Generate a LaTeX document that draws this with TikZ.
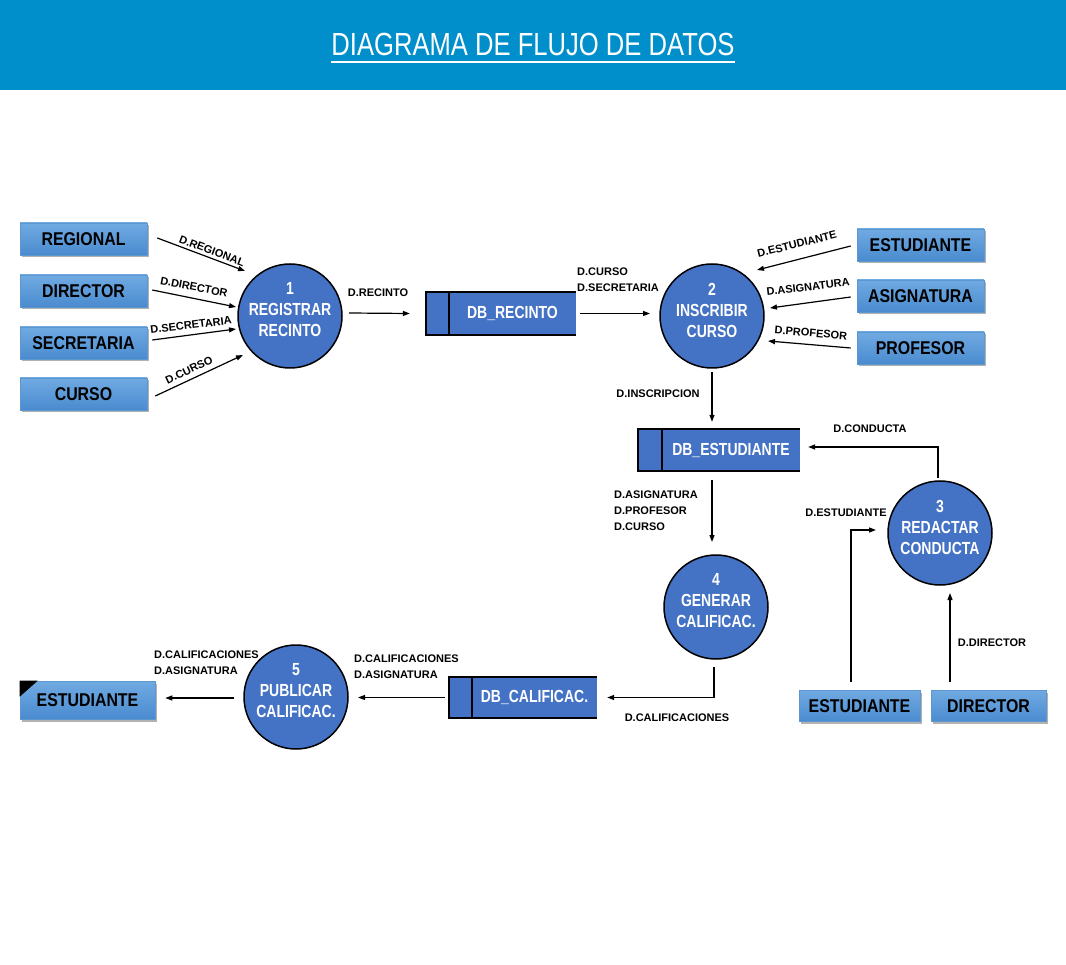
\documentclass[tikz,border=0pt]{standalone}
\usepackage{fontspec}
\setmainfont{Liberation Sans}
\newfontfamily\narrowfont[FakeStretch=0.8]{Liberation Sans}
\newfontfamily\entfont[FakeStretch=0.86]{Liberation Sans}
\usetikzlibrary{arrows.meta,shadows,calc}
\definecolor{headerBlue}{HTML}{008FCB}
\definecolor{procBlue}{HTML}{4472C4}
\definecolor{entTop}{HTML}{70AAE2}
\definecolor{entBot}{HTML}{4A8BCF}
\definecolor{entEdge}{HTML}{5E97D0}
\tikzset{
  ent/.style={rectangle, top color=entTop, bottom color=entBot, draw=entEdge, line width=0.6pt,
    minimum width=127pt, minimum height=32pt, inner sep=0pt,
    font=\fontsize{18.5}{21}\selectfont\entfont\bfseries, text=black,
    drop shadow={shadow xshift=2pt, shadow yshift=-2.5pt, fill=black, opacity=0.3}},
  proc/.style={circle, fill=procBlue, draw=black, line width=1.5pt, minimum size=104pt, inner sep=0pt},
  proctext/.style={align=center, text=white, font=\fontsize{17.5}{21}\selectfont\narrowfont\bfseries, inner sep=0pt},
  store/.style={rectangle, fill=procBlue, inner sep=0pt, text=white, font=\fontsize{17.5}{20}\selectfont\narrowfont\bfseries},
  storeline/.style={draw=black, line width=1.5pt},
  flow/.style={draw=black, line width=1.2pt, -{Triangle[length=7pt,width=5pt]}},
  lbl/.style={font=\fontsize{11}{16}\selectfont\bfseries, text=black, inner sep=0pt, align=left},
}
\begin{document}
\begin{tikzpicture}[x=1pt,y=-1pt]
\useasboundingbox (0,0) rectangle (1066,965);
\fill[white] (0,0) rectangle (1066,965);
\fill[headerBlue] (0,0) rectangle (1066,90);
\node[text=white, inner sep=0pt, font=\fontsize{32}{36}\selectfont\narrowfont] (title) at (533,44) {DIAGRAMA DE FLUJO DE DATOS};
\draw[white, line width=2pt] ($(title.south west)+(0,6)$) -- ($(title.south east)+(0,6)$);

% external entities
\node[ent] (reg) at (83.5,239) {REGIONAL};
\node[ent] (dir) at (83.5,291) {DIRECTOR};
\node[ent] (sec) at (83.5,343) {SECRETARIA};
\node[ent] (cur) at (83.5,394) {CURSO};
\node[ent] (est) at (920.5,245) {ESTUDIANTE};
\node[ent] (asig) at (920.5,296) {ASIGNATURA};
\node[ent] (prof) at (920.5,348) {PROFESOR};
\node[ent, minimum width=121pt, minimum height=31pt] (est2) at (859.5,706) {ESTUDIANTE};
\node[ent, minimum width=115pt, minimum height=31pt] (dir2) at (988.5,706) {DIRECTOR};
\node[ent, minimum width=135pt, minimum height=38pt] (estL) at (87.5,700) {ESTUDIANTE};
\fill[black] (estL.north west) -- ++(18,0) -- ++(-18,16) -- cycle;

% processes
\node[proc] (p1) at (290,316) {};
\node[proc] (p2) at (712,316) {};
\node[proc] (p3) at (940,533) {};
\node[proc] (p4) at (716,607) {};
\node[proc] (p5) at (296,697) {};
\node[proctext] (p1t) at ($(p1)+(0,-6)$) {1\\REGISTRAR\\RECINTO};
\node[proctext] (p2t) at ($(p2)+(0,-6)$) {2\\INSCRIBIR\\CURSO};
\node[proctext] (p3t) at ($(p3)+(0,-6)$) {3\\REDACTAR\\CONDUCTA};
\node[proctext] (p4t) at ($(p4)+(0,-6)$) {4\\GENERAR\\CALIFICAC.};
\node[proctext] (p5t) at ($(p5)+(0,-6)$) {5\\PUBLICAR\\CALIFICAC.};

% data stores
\node[store, minimum width=150pt, minimum height=43pt] (s1) at (501,313.5) {\hspace*{23pt}DB\_RECINTO};
\draw[storeline] (s1.north east) -- (s1.north west) -- (s1.south west) -- (s1.south east);
\draw[storeline] ($(s1.north west)+(23,0)$) -- ($(s1.south west)+(23,0)$);
\node[store, minimum width=162pt, minimum height=42pt] (s2) at (719,450) {\hspace*{24pt}DB\_ESTUDIANTE};
\draw[storeline] (s2.north east) -- (s2.north west) -- (s2.south west) -- (s2.south east);
\draw[storeline] ($(s2.north west)+(24,0)$) -- ($(s2.south west)+(24,0)$);
\node[store, minimum width=148pt, minimum height=41pt] (s3) at (523,697.5) {\hspace*{23pt}DB\_CALIFICAC.};
\draw[storeline] (s3.north east) -- (s3.north west) -- (s3.south west) -- (s3.south east);
\draw[storeline] ($(s3.north west)+(23,0)$) -- ($(s3.south west)+(23,0)$);

% flows
\draw[flow] ($(reg.east)+(10,-1)$) -- ($(p1)+(-45,-45)$);
\draw[flow] ($(dir.east)+(5,-1)$) -- ($(p1)+(-54,-9)$);
\draw[flow] ($(sec.east)+(5,-3)$) -- ($(p1)+(-54,13)$);
\draw[flow] ($(cur.east)+(8,2)$) -- ($(p1)+(-47,39)$);
\draw[flow] ($(p1)+(59,-3)$) -- ($(s1.west)+(-16,0)$);
\draw[flow] ($(s1.east)+(4,0)$) -- ($(p2)+(-62,-2.5)$);
\draw[flow] ($(est.west)+(-6,1)$) -- ($(p2)+(45,-46)$);
\draw[flow] ($(asig.west)+(-6,1)$) -- ($(p2)+(58,-8)$);
\draw[flow] ($(prof.west)+(-6,0)$) -- ($(p2)+(56,25)$);
\draw[flow] ($(p2)+(0,56)$) -- ($(s2.north)+(-7,-7)$);
\draw[flow] ($(s2.south)+(-7,9)$) -- ($(p4)+(-4,-65)$);
\draw[flow] ($(p3)+(-2,-55)$) |- ($(s2.east)+(8,-3)$);
\draw[flow] ($(est2.north)+(-8.5,-8)$) |- ($(p3)+(-64,-3)$);
\draw[flow] ($(dir2.north)+(-38.5,-8)$) -- ($(p3)+(10,60)$);
\draw[flow] ($(p4)+(-2,60)$) |- ($(s3.east)+(10,0)$);
\draw[flow] ($(s3.west)+(-4,0)$) -- ($(p5)+(62,0.5)$);
\draw[flow] ($(p5)+(-62,1)$) -- ($(estL.east)+(10,-2)$);

% labels
\node[lbl, rotate=-21] (l1) at (212,251) {D.REGIONAL};
\node[lbl, rotate=-11] (l2) at (194,287) {D.DIRECTOR};
\node[lbl, rotate=7] (l3) at (191,325) {D.SECRETARIA};
\node[lbl, rotate=25] (l4) at (189,370) {D.CURSO};
\node[lbl] (l5) at (378,293) {D.RECINTO};
\node[lbl, anchor=west] (l6) at (577,280) {D.CURSO\\D.SECRETARIA};
\node[lbl, rotate=14] (l7) at (797,244) {D.ESTUDIANTE};
\node[lbl, rotate=7] (l8) at (808,287) {D.ASIGNATURA};
\node[lbl, rotate=-5] (l9) at (811,333) {D.PROFESOR};
\node[lbl] (l10) at (658,394) {D.INSCRIPCION};
\node[lbl, anchor=west] (l11) at (614,511) {D.ASIGNATURA\\D.PROFESOR\\D.CURSO};
\node[lbl] (l12) at (870,429) {D.CONDUCTA};
\node[lbl] (l13) at (846,513) {D.ESTUDIANTE};
\node[lbl] (l14) at (992,643) {D.DIRECTOR};
\node[lbl] (l15) at (677,718) {D.CALIFICACIONES};
\node[lbl, anchor=west] (l16) at (354,667) {D.CALIFICACIONES\\D.ASIGNATURA};
\node[lbl, anchor=west] (l17) at (154,663) {D.CALIFICACIONES\\D.ASIGNATURA};
\end{tikzpicture}
\end{document}
